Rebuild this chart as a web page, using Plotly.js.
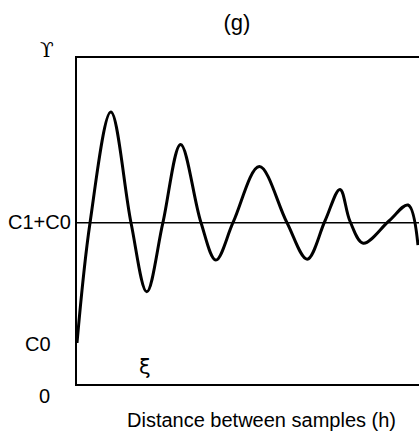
<!DOCTYPE html>
<html>
<head>
<meta charset="utf-8">
<script src="https://cdn.plot.ly/plotly-3.0.1.min.js"></script>
<style>html,body{margin:0;padding:0;background:#fff;}#chart{width:419px;height:435px;}</style>
</head>
<body>
<div id="chart"></div>
<script>
// Distance between samples (h), arbitrary units
var distance = [0, 0.38, 0.99, 1.58, 2.04, 2.51, 3.03, 3.62, 4.06, 4.57, 5.33, 6.13, 6.73, 7.25, 7.69, 7.98, 8.37, 9.12, 9.68, 9.97];
// Semivariance (gamma), arbitrary units
var gamma = [1.26, 4.94, 8.34, 4.94, 2.83, 4.94, 7.35, 4.97, 3.80, 4.97, 6.67, 4.97, 3.83, 5.00, 5.97, 5.00, 4.32, 5.00, 5.49, 4.26];
// Reference levels
var nugget = 1.26;      // C0
var sill = 4.95;        // C1+C0
var sillX = [0, 10];
var levelLabels = ["0", "C0", "C1+C0"];
var levelValues = [0, nugget, sill];

var font = "Liberation Sans, Arial, Helvetica, sans-serif";

var traces = [
  {x: sillX, y: [sill, sill], mode: "lines", line: {color: "#000", width: 1.5}, hoverinfo: "skip", showlegend: false},
  {x: distance, y: gamma, mode: "lines", line: {color: "#000", width: 3, shape: "spline", smoothing: 1}, showlegend: false}
];

var annotations = [];
var labelRight = [52, 53, 73];
for (var i = 0; i < levelLabels.length; i++) {
  annotations.push({
    text: levelLabels[i], xref: "paper", yref: "y", x: (labelRight[i] - 77) / 342, y: levelValues[i],
    xanchor: "right", yanchor: "middle", showarrow: false,
    yshift: i === 0 ? -12 : (i === 1 ? -1 : 1),
    font: {family: font, size: 20, color: "#000"}
  });
}
annotations.push({text: "ϒ", xref: "paper", yref: "paper", x: (47 - 77) / 342, y: (384 - 50) / 326,
  xanchor: "center", yanchor: "middle", showarrow: false, font: {family: "DejaVu Serif, serif", size: 20, color: "#000"}});
annotations.push({text: "ξ", xref: "x", yref: "paper", x: 2.0, y: (384 - 367) / 326,
  xanchor: "center", yanchor: "middle", showarrow: false, font: {family: "DejaVu Sans, sans-serif", size: 21, color: "#000"}});
annotations.push({text: "Distance between samples (h)", xref: "paper", yref: "paper", x: (261 - 77) / 342, y: -(420 - 384) / 326,
  xanchor: "center", yanchor: "middle", showarrow: false, font: {family: font, size: 20, color: "#000"}});

var layout = {
  width: 419, height: 435,
  margin: {l: 77, r: 0, t: 58, b: 51, pad: 0},
  paper_bgcolor: "#fff", plot_bgcolor: "#fff",
  title: {text: "(g)", xref: "container", yref: "container", x: 237 / 419, y: 1 - 22 / 435,
    xanchor: "center", yanchor: "middle", font: {family: font, size: 22, color: "#000"}},
  xaxis: {range: [0, 10], showgrid: false, zeroline: false, showticklabels: false, ticks: "",
    showline: true, linecolor: "#000", linewidth: 2, mirror: true},
  yaxis: {range: [0, 10], showgrid: false, zeroline: false, showticklabels: false, ticks: "",
    showline: true, linecolor: "#000", linewidth: 2, mirror: false},
  annotations: annotations,
  showlegend: false
};

Plotly.newPlot("chart", traces, layout, {staticPlot: true, displayModeBar: false});
</script>
</body>
</html>
